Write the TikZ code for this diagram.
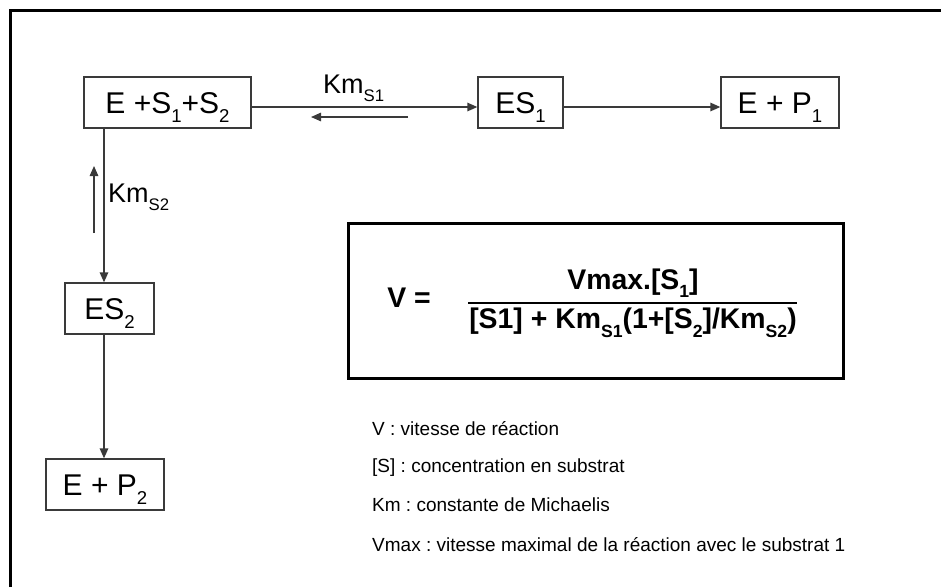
\documentclass[tikz,border=0pt]{standalone}
\usepackage{fontspec}
\usepackage{graphicx}
\setmainfont{Liberation Sans}
\usetikzlibrary{arrows.meta}
\definecolor{boxgray}{HTML}{3A3A3A}
\newcommand\sbs[1]{\raisebox{-0.3em}{\scalebox{0.62}{#1}}}
\frenchspacing
\begin{document}
\begin{tikzpicture}[x=1pt,y=-1pt,
  box/.style={draw=boxgray,line width=1.3pt,minimum height=51pt,inner sep=0pt,
    font=\fontsize{30}{30}\selectfont,text height=21.5pt,text depth=0pt},
  conn/.style={draw=boxgray,line width=1.3pt,-{Triangle[length=10pt,width=8.5pt]}},
  klabel/.style={anchor=base west,inner sep=0pt,font=\fontsize{27}{27}\selectfont},
  fml/.style={inner sep=0pt,font=\bfseries\fontsize{28.4}{28.4}\selectfont},
  legend/.style={anchor=base west,inner sep=0pt,font=\fontsize{19}{19}\selectfont},
]
\useasboundingbox (0,0) rectangle (941,587);
\draw[line width=3pt] (10,587) -- (10,10) -- (941,10);

\node[box,minimum width=167pt] (A) at (167.5,102.5) {E +S\sbs{1}+S\sbs{2}};
\node[box,minimum width=85pt] (B) at (520.5,102.5) {ES\sbs{1}};
\node[box,minimum width=118pt] (C) at (780,102.5) {E + P\sbs{1}};
\node[box,minimum width=89pt] (D) at (109.5,308.5) {ES\sbs{2}};
\node[box,minimum width=118pt] (F) at (105,484.5) {E + P\sbs{2}};

\coordinate (hy) at (0,107);
\coordinate (vx) at (104,0);
\coordinate (r1) at (408,117);
\coordinate (r2) at (311,117);
\coordinate (u1) at (94,233);
\coordinate (u2) at (94,166);

\draw[conn] (A.east |- hy) -- (B.west |- hy);
\draw[conn] (B.east |- hy) -- (C.west |- hy);
\draw[conn] (r1) -- (r2);
\draw[conn] (A.south -| vx) -- (D.north -| vx);
\draw[conn] (D.south -| vx) -- (F.north -| vx);
\draw[conn] (u1) -- (u2);

\node[klabel] (k1) at (323,93) {Km\sbs{S1}};
\node[klabel] (k2) at (108,202) {Km\sbs{S2}};

\node[draw,line width=3pt,minimum width=495pt,minimum height=155pt] (fbox) at (595.5,300.5) {};
\node[fml] (veq) at (409,298) {V =};
\node[fml] (num) at (633,283) {Vmax.[S\sbs{1}]};
\node[fml] (den) at (633,323) {[S1] + Km\sbs{S1}(1+[S\sbs{2}]/Km\sbs{S2})};
\draw[line width=1.2pt] (468,303) -- (797,303);

\node[legend] (l1) at (372,435) {V : vitesse de réaction};
\node[legend] (l2) at (372,472.5) {[S] : concentration en substrat};
\node[legend] (l3) at (372,511.5) {Km : constante de Michaelis};
\node[legend] (l4) at (372,551) {Vmax : vitesse maximal de la réaction avec le substrat 1};
\end{tikzpicture}
\end{document}
